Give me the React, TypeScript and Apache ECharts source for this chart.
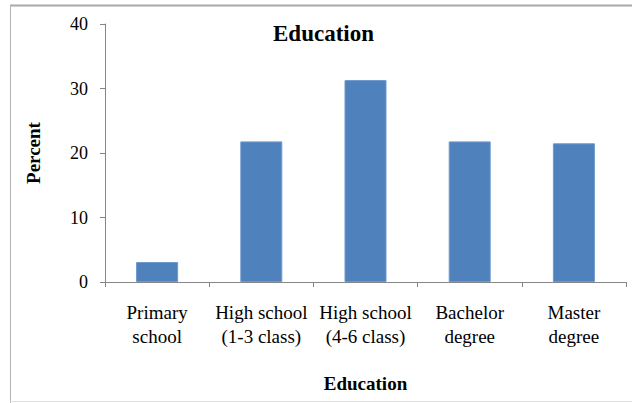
import React, { useEffect, useRef } from "react";
import * as echarts from "echarts";

// Share of respondents by education level (percent)
const categories: string[] = [
  "Primary\nschool",
  "High school\n(1-3 class)",
  "High school\n(4-6 class)",
  "Bachelor\ndegree",
  "Master\ndegree",
];
const percentValues: number[] = [3.1, 21.8, 31.3, 21.8, 21.5];
const yTicks: number[] = [0, 10, 20, 30, 40];

const chartTitle = "Education";
const xAxisTitle = "Education";
const yAxisTitle = "Percent";

const SERIF = "Liberation Serif";
const AXIS_GRAY = "#868686";

export default function App() {
  const ref = useRef<HTMLDivElement>(null);

  useEffect(() => {
    if (!ref.current) return;
    const chart = echarts.init(ref.current, undefined, { renderer: "svg" });
    chart.setOption({
      animation: false,
      backgroundColor: "#ffffff",
      textStyle: { fontFamily: SERIF },
      title: {
        text: chartTitle,
        left: 268,
        top: 17,
        textStyle: {
          fontFamily: SERIF,
          fontWeight: "bold",
          fontSize: 23,
          color: "#000",
        },
      },
      grid: { left: 105, right: 6, top: 24, bottom: 121, containLabel: false },
      xAxis: {
        type: "category",
        data: categories,
        name: xAxisTitle,
        nameLocation: "middle",
        nameGap: 92,
        nameTextStyle: {
          fontFamily: SERIF,
          fontWeight: "bold",
          fontSize: 19,
          color: "#000",
        },
        axisLine: { show: true, lineStyle: { color: AXIS_GRAY, width: 1 } },
        axisTick: {
          show: true,
          alignWithLabel: false,
          length: 5,
          lineStyle: { color: AXIS_GRAY },
        },
        axisLabel: {
          interval: 0,
          margin: 18,
          fontFamily: SERIF,
          fontSize: 19,
          lineHeight: 24,
          color: "#000",
        },
      },
      yAxis: {
        type: "value",
        min: yTicks[0],
        max: yTicks[yTicks.length - 1],
        interval: yTicks[1] - yTicks[0],
        name: yAxisTitle,
        nameLocation: "middle",
        nameGap: 62,
        nameTextStyle: {
          fontFamily: SERIF,
          fontWeight: "bold",
          fontSize: 19,
          color: "#000",
        },
        splitLine: { show: false },
        axisLine: { show: true, lineStyle: { color: AXIS_GRAY, width: 1 } },
        axisTick: { show: true, length: 5, lineStyle: { color: AXIS_GRAY } },
        axisLabel: {
          margin: 17,
          fontFamily: SERIF,
          fontSize: 18,
          color: "#000",
        },
      },
      series: [
        {
          type: "bar",
          data: percentValues,
          barWidth: 42,
          itemStyle: { color: "#4F81BD", borderColor: "#6d98cc", borderWidth: 1 },
        },
      ],
      graphic: [
        {
          type: "line",
          shape: { x1: 10, y1: 5.5, x2: 640, y2: 5.5 },
          style: { stroke: "#a8a8a8", lineWidth: 2 },
        },
        {
          type: "line",
          shape: { x1: 10.5, y1: 5, x2: 10.5, y2: 403 },
          style: { stroke: "#b4b4b4", lineWidth: 1 },
        },
        {
          type: "line",
          shape: { x1: 10, y1: 401.5, x2: 640, y2: 401.5 },
          style: { stroke: "#e2e2e2", lineWidth: 1 },
        },
      ],
    });
    return () => chart.dispose();
  }, []);

  return <div ref={ref} style={{ width: 632, height: 403, position: "absolute", left: 0, top: 0 }} />;
}
